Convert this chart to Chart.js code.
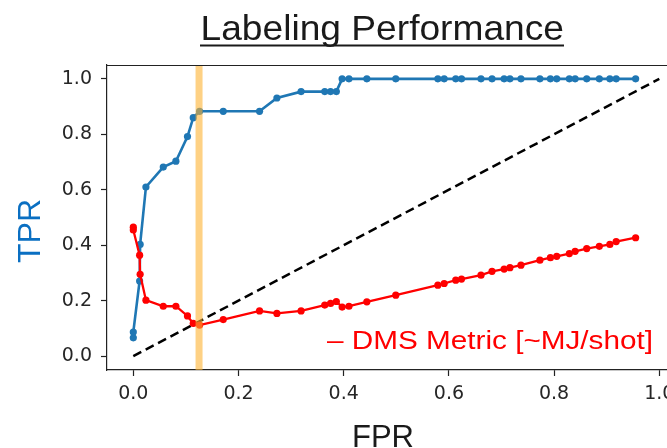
<!DOCTYPE html>
<html>
<head>
<meta charset="utf-8">
<script src="https://cdn.jsdelivr.net/npm/chart.js@4.4.1/dist/chart.umd.min.js"></script>
<style>
  html, body { margin: 0; padding: 0; overflow: hidden; background: #fff; width: 667px; height: 448px; }
  #wrap { width: 700px; height: 448px; }
</style>
</head>
<body>
<div id="wrap"><canvas id="c" width="700" height="448"></canvas></div>
<script>
// ---- data ----
const FPR = [0, 0, 0.012, 0.013, 0.024, 0.057, 0.081, 0.103, 0.114, 0.126, 0.171, 0.240, 0.273, 0.319,
  0.364, 0.375, 0.386, 0.397, 0.410, 0.444, 0.499, 0.579, 0.591, 0.613, 0.624, 0.661, 0.682, 0.705,
  0.716, 0.737, 0.773, 0.793, 0.805, 0.829, 0.840, 0.862, 0.886, 0.906, 0.918, 0.955];
const TPR_LABELING = [0.066, 0.087, 0.271, 0.403, 0.610, 0.682, 0.703, 0.792, 0.860, 0.883, 0.883, 0.883,
  0.931, 0.954, 0.954, 0.954, 0.954, 1.0, 1.0, 1.0, 1.0, 1.0, 1.0, 1.0, 1.0, 1.0, 1.0, 1.0, 1.0, 1.0,
  1.0, 1.0, 1.0, 1.0, 1.0, 1.0, 1.0, 1.0, 1.0, 1.0];
const DMS_METRIC = [0.465, 0.455, 0.364, 0.295, 0.202, 0.180, 0.180, 0.145, 0.118, 0.112, 0.132, 0.163,
  0.154, 0.163, 0.184, 0.190, 0.197, 0.177, 0.180, 0.196, 0.220, 0.256, 0.262, 0.274, 0.278, 0.292,
  0.306, 0.314, 0.319, 0.328, 0.346, 0.355, 0.360, 0.370, 0.378, 0.388, 0.396, 0.403, 0.413, 0.427];
const CHANCE_X = [0, 1];
const CHANCE_Y = [0, 1];
const THRESHOLD_FPR = 0.125;
const X_TICKS = [0.0, 0.2, 0.4, 0.6, 0.8, 1.0];
const Y_TICKS = [0.0, 0.2, 0.4, 0.6, 0.8, 1.0];
const TITLE = 'Labeling Performance';
const X_TITLE = 'FPR';
const Y_TITLE = 'TPR';
const SERIES_LABEL = '– DMS Metric [~MJ/shot]';

const pts = (xs, ys) => xs.map((x, i) => ({ x: x, y: ys[i] }));

function fitText(ctx, text, x, y, w, font, color) {
  ctx.save();
  ctx.font = font;
  ctx.fillStyle = color;
  ctx.textAlign = 'left';
  ctx.textBaseline = 'alphabetic';
  const m = ctx.measureText(text).width;
  ctx.translate(x, y);
  ctx.scale(w / m, 1);
  ctx.fillText(text, 0, 0);
  ctx.restore();
}

const decor = {
  id: 'decor',
  afterDatasetsDraw(chart) {
    const ctx = chart.ctx, a = chart.chartArea, xs = chart.scales.x;
    const bx = xs.getPixelForValue(THRESHOLD_FPR);
    ctx.save();
    ctx.fillStyle = 'rgba(253,178,50,0.6)';
    ctx.fillRect(bx - 3.5, a.top, 7, a.bottom - a.top);
    ctx.strokeStyle = '#222';
    ctx.lineWidth = 1.2;
    ctx.beginPath();
    ctx.moveTo(a.left, a.top + 0.5);
    ctx.lineTo(a.right, a.top + 0.5);
    ctx.stroke();
    ctx.restore();
  },
  afterDraw(chart) {
    const ctx = chart.ctx;
    fitText(ctx, TITLE, 200.5, 39.5, 363.5, '35px "Liberation Sans", Arial, sans-serif', '#1a1a1a');
    ctx.save();
    ctx.strokeStyle = '#1a1a1a';
    ctx.lineWidth = 2.2;
    ctx.beginPath();
    ctx.moveTo(200, 45.5);
    ctx.lineTo(564, 45.5);
    ctx.stroke();
    ctx.restore();
    ctx.save();
    ctx.translate(40, 263);
    ctx.rotate(-Math.PI / 2);
    fitText(ctx, Y_TITLE, 0, 0, 64, '31px "Liberation Sans", Arial, sans-serif', '#0a6fc2');
    ctx.restore();
    fitText(ctx, X_TITLE, 352, 447, 62, '31px "Liberation Sans", Arial, sans-serif', '#1a1a1a');
    fitText(ctx, SERIES_LABEL, 327, 349, 326, '26px "Liberation Sans", Arial, sans-serif', '#ff0000');
  }
};

const tickFont = { family: '"DejaVu Sans", sans-serif', size: 19 };

new Chart(document.getElementById('c'), {
  type: 'line',
  data: {
    datasets: [
      {
        label: 'DMS Metric',
        data: pts(FPR, DMS_METRIC),
        borderColor: '#ff0000', backgroundColor: '#ff0000',
        borderWidth: 2.3, pointRadius: 3.6, pointBorderWidth: 0, pointBackgroundColor: '#ff0000',
        order: 0
      },
      {
        label: 'TPR',
        data: pts(FPR, TPR_LABELING),
        borderColor: '#1f77b4', backgroundColor: '#1f77b4',
        borderWidth: 2.6, pointRadius: 3.6, pointBorderWidth: 0, pointBackgroundColor: '#1f77b4',
        order: 1
      },
      {
        label: 'chance',
        data: pts(CHANCE_X, CHANCE_Y),
        borderColor: '#000', borderWidth: 2.5, borderDash: [9, 5], pointRadius: 0,
        order: 2
      }
    ]
  },
  options: {
    responsive: false,
    animation: false,
    devicePixelRatio: 1,
    layout: { padding: { top: 65, left: 0, right: 14.4, bottom: 0 } },
    plugins: { legend: { display: false }, tooltip: { enabled: false }, title: { display: false } },
    scales: {
      x: {
        type: 'linear', min: -0.05, max: 1.05,
        grid: { drawOnChartArea: false, drawTicks: true, tickLength: 6, tickColor: '#222', tickWidth: 1.2 },
        border: { display: true, color: '#222', width: 1.2 },
        ticks: { font: tickFont, color: '#262626', padding: 7, maxRotation: 0,
          callback: v => v.toFixed(1) },
        afterBuildTicks: s => { s.ticks = X_TICKS.map(v => ({ value: v })); },
        afterFit: s => { s.height = 78; }
      },
      y: {
        type: 'linear', min: -0.05, max: 1.05,
        grid: { drawOnChartArea: false, drawTicks: true, tickLength: 6, tickColor: '#222', tickWidth: 1.2 },
        border: { display: true, color: '#222', width: 1.2 },
        ticks: { font: tickFont, color: '#262626', padding: 9,
          callback: v => v.toFixed(1) },
        afterBuildTicks: s => { s.ticks = Y_TICKS.map(v => ({ value: v })); },
        afterFit: s => { s.width = 107; }
      }
    }
  },
  plugins: [decor]
});
</script>
</body>
</html>
